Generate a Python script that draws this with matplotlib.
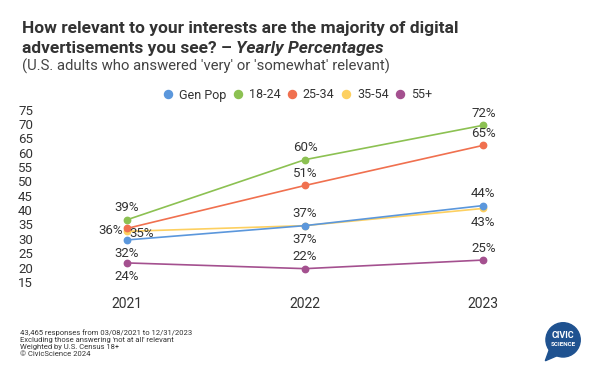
import matplotlib
matplotlib.use("Agg")
import matplotlib.pyplot as plt
from matplotlib.lines import Line2D
from matplotlib.patches import Circle, Polygon
import numpy as np

plt.rcParams['font.family'] = ['Roboto', 'DejaVu Sans']

# ─── data ───────────────────────────────────────────
years = [2021, 2022, 2023]
series = ['Gen Pop', '18-24', '25-34', '35-54', '55+']
gen_pop = [32, 37, 44]
age_18_24 = [39, 60, 72]
age_25_34 = [36, 51, 65]
age_35_54 = [35, 37, 43]
age_55_plus = [24, 22, 25]
values = [gen_pop, age_18_24, age_25_34, age_35_54, age_55_plus]
colors = ['#5b97dc', '#8cc152', '#f0704f', '#fdd060', '#a4508f']
ytick_vals = list(range(15, 80, 5))

# label placement per series / year: (dx px, dy px, ha)
ABOVE, BELOW = (0, 12, 'center'), (0, -14, 'center')
placements = {
    'Gen Pop': [BELOW, ABOVE, ABOVE],
    '18-24':   [ABOVE, ABOVE, ABOVE],
    '25-34':   [(-4, -2, 'right'), ABOVE, ABOVE],
    '35-54':   [(3, -2, 'left'), BELOW, BELOW],
    '55+':     [BELOW, ABOVE, ABOVE],
}

W, H = 600, 386
fig = plt.figure(figsize=(W / 100, H / 100), dpi=100)
px = 72 / 100  # points per pixel

# axes: x from 40 to 580 px, y from 100 to 285 px (top-down)
ax = fig.add_axes([40 / W, 1 - 285 / H, 540 / W, 185 / H])
ax.set_xlim(2020.514, 2023.542)
ax.set_ylim(16.3, 80.8)
offset = 2.4  # the source chart's tick labels sit a little above their values

for name, vals, col in zip(series, values, colors):
    ax.plot(years, vals, color=col, lw=1.2, marker='o', ms=4.6,
            zorder=3 if name != '35-54' else 2)
    for yr, v, (dx, dy, ha) in zip(years, vals, placements[name]):
        ax.annotate(f"{v}%", (yr, v), xytext=(dx * px, dy * px),
                    textcoords='offset points', ha=ha, va='center',
                    fontsize=9.5, color='#333333')

ax.set_xticks(years)
ax.set_xticklabels([str(y) for y in years], fontsize=10, color='#333333')
ax.set_yticks([v + offset for v in ytick_vals])
ax.set_yticklabels([str(v) for v in ytick_vals], fontsize=9.5, color='#333333')
ax.tick_params(length=0)
ax.tick_params(axis='x', pad=9)
ax.tick_params(axis='y', pad=5)
for s in ax.spines.values():
    s.set_visible(False)

# ─── title ──────────────────────────────────────────
title_col = '#333333'
tsize = 12.5
x0 = 21.5 / W
fig.text(x0, 1 - 29 / H, "How relevant to your interests are the majority of digital",
         fontsize=tsize, fontweight='bold', color=title_col, va='center')
t2 = fig.text(x0, 1 - 48.3 / H, "advertisements you see? \u2013 ",
              fontsize=tsize, fontweight='bold', color=title_col, va='center')
r = fig.canvas.get_renderer()
bb = t2.get_window_extent(renderer=r)
fig.text(bb.x1 / W, 1 - 48.3 / H, "Yearly Percentages", fontsize=tsize,
         fontweight='bold', fontstyle='italic', color=title_col, va='center')
fig.text(x0, 1 - 66.7 / H, "(U.S. adults who answered 'very' or 'somewhat' relevant)",
         fontsize=10.7, color='#444444', va='center')

# ─── legend ─────────────────────────────────────────
handles = [Line2D([], [], ls='none', marker='o', ms=5.8, color=c) for c in colors]
fig.legend(handles, series, loc='center', bbox_to_anchor=(297 / W, 1 - 95 / H),
           ncol=5, frameon=False, fontsize=9.0, handletextpad=0.35,
           columnspacing=0.45, handlelength=1.0, labelcolor='#333333')

# ─── footer ─────────────────────────────────────────
notes = ["43,465 responses from 03/08/2021 to 12/31/2023",
         "Excluding those answering 'not at all' relevant",
         "Weighted by U.S. Census 18+",
         "\u00a9 CivicScience 2024"]
for i, line in enumerate(notes):
    fig.text(19.5 / W, 1 - (332.3 + i * 7.35) / H, line, fontsize=5.5,
             color='#333333', va='center')

# ─── logo ───────────────────────────────────────────
lax = fig.add_axes([538 / W, 1 - 366 / H, 46 / W, 46 / H])
lax.set_xlim(-1.1, 1.1)
lax.set_ylim(-1.1, 1.1)
lax.set_aspect('equal')
lax.axis('off')
logo_col = '#1f5290'
lax.add_patch(Circle((0.1, 0.15), 0.82, color=logo_col))
lax.add_patch(Polygon([[-0.55, -0.3], [-0.75, -0.85], [-0.1, -0.57]], color=logo_col))
lax.text(0.1, 0.34, "CIVIC", color='white', fontsize=6.5, fontweight='bold',
         ha='center', va='center')
lax.text(0.1, -0.08, "SCIENCE", color='white', fontsize=4.5, fontweight='bold',
         ha='center', va='center')

fig.savefig('out.png', dpi=100, facecolor='white')
